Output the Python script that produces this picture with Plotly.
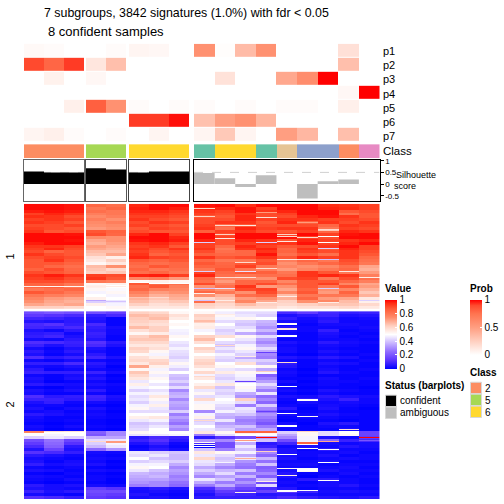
import numpy as np
import plotly.graph_objects as go

TITLE_1 = "7 subgroups, 3842 signatures (1.0%) with fdr &lt; 0.05"
TITLE_2 = "8 confident samples"
row_labels = ["p1", "p2", "p3", "p4", "p5", "p6", "p7"]
cluster_labels = ["1", "2"]

# sample columns per block: 3, 2, 3, 9
block_sizes = [3, 2, 3, 9]

prob_p1 = [.03, .02, 0, 0, .02, .05, .04, 0, .58, .01, .35, .58, 0, 0, 0, .16, 0]
prob_p2 = [.9, .8, .92, .13, .33, 0, 0, 0, 0, 0, 0, 0, 0, 0, 0, .33, 0]
prob_p3 = [0, .07, 0, .04, 0, 0, 0, 0, 0, .15, 0, 0, .45, .6, 1, 0, 0]
prob_p4 = [0, 0, 0, 0, 0, 0, 0, 0, 0, 0, 0, 0, 0, 0, 0, .04, 1]
prob_p5 = [0, 0, .08, .82, .58, .02, 0, .02, .02, 0, .02, 0, .02, .02, 0, .08, 0]
prob_p6 = [0, 0, 0, 0, 0, .92, .92, .98, .32, .5, .58, .38, 0, 0, 0, 0, 0]
prob_p7 = [.05, .08, .02, 0, .02, 0, .05, 0, .05, .28, .05, 0, .5, .37, 0, .33, 0]

class_ids = [2, 2, 2, 5, 5, 6, 6, 6, 1, 6, 6, 1, 7, 3, 3, 2, 4]
class_palette = ["#66C2A5", "#FC8D62", "#8DA0CB", "#E78AC3", "#A6D854", "#FFD92F", "#E5C494"]

silhouette = [.54, .5, .5, .68, .62, .5, .54, .54, .47, .25, -.13, .38, 0, -.62, .12, .2, 0]
confident = [1, 1, 1, 1, 1, 1, 1, 1, 0, 0, 0, 0, 0, 0, 0, 0, 0]
sil_ticks = [-0.5, 0, 0.5, 1]

value_ticks = [0, .2, .4, .6, .8, 1]
prob_ticks = [0, .5, 1]
legend_classes = [("2", "#FC8D62"), ("5", "#A6D854"), ("6", "#FFD92F")]
legend_status = [("confident", "#000000"), ("ambiguous", "#BEBEBE")]

# heatmap values, in hundredths; each row is one band of signatures
cluster_1 = [
 [99,99,98,84,82,96,99,99,98,99,95,99,99,99,95,94,92],
 [99,99,98,80,84,97,99,97,96,96,98,92,99,99,96,95,92],
 [97,98,97,82,80,96,96,94,94,92,98,94,96,99,99,88,90],
 [92,96,94,78,80,94,94,92,92,90,94,90,92,99,99,82,88],
 [95,94,90,75,78,92,92,90,88,88,96,90,90,96,98,94,88],
 [92,94,92,78,74,94,90,88,90,90,96,92,94,94,92,92,90],
 [94,92,88,75,78,90,94,92,90,94,94,88,96,86,94,90,94],
 [90,90,92,74,75,92,90,88,92,84,88,90,90,90,84,94,92],
 [92,90,88,72,74,88,92,90,94,82,96,92,94,94,80,92,90],
 [94,88,90,88,85,90,88,88,86,92,94,90,88,92,84,96,94],
 [99,99,98,90,84,96,99,92,99,90,99,99,92,99,92,98,99],
 [99,99,99,75,74,99,99,96,99,92,99,99,98,92,90,99,99],
 [99,99,98,70,74,98,99,97,96,90,96,94,88,96,92,94,96],
 [97,99,99,68,72,94,96,92,92,90,92,94,94,98,92,96,99],
 [94,94,92,72,70,92,94,88,92,84,96,92,88,90,94,99,92],
 [92,96,90,70,68,94,90,94,94,80,94,96,84,94,88,96,92],
 [90,85,88,66,66,92,88,90,90,82,84,94,85,92,90,94,90],
 [94,90,88,64,70,94,85,88,86,84,84,98,82,88,82,94,88],
 [90,92,90,58,54,96,92,90,94,88,90,94,88,96,92,94,84],
 [88,94,88,56,62,88,85,88,84,80,80,88,78,84,80,90,82],
 [88,88,85,52,56,84,82,84,88,84,88,90,74,80,84,88,80],
 [88,84,82,66,74,82,88,84,85,85,92,80,76,74,76,82,70],
 [85,90,84,64,60,85,80,82,80,88,80,78,72,76,80,84,68],
 [90,88,85,62,64,82,84,80,92,84,88,86,80,94,88,80,72],
 [94,97,94,92,90,96,97,92,96,82,80,82,82,94,96,94,78],
 [92,94,90,94,88,76,78,72,84,76,76,74,90,92,80,90,82],
 [90,90,88,80,78,52,54,52,82,72,84,84,76,88,88,84,78],
 [85,84,80,52,54,88,84,82,90,78,84,90,82,88,92,76,70],
 [84,86,80,54,50,82,88,78,74,82,94,72,74,88,80,88,72],
 [80,82,84,52,49,84,78,76,78,74,90,92,70,85,74,76,68],
 [88,84,80,48,52,78,72,74,84,80,74,90,76,88,72,85,64],
 [80,78,76,50,48,74,68,70,74,68,82,84,66,80,80,80,68],
 [76,72,70,54,50,68,64,68,60,64,72,74,68,84,72,70,56],
 [74,70,68,42,46,66,62,64,82,64,76,70,62,74,76,66,54],
 [70,68,70,54,48,62,58,60,62,60,66,62,60,62,64,64,60],
 [62,62,60,50,52,56,56,56,60,58,60,60,56,58,58,60,56],
]
cluster_2 = [
 [18,20,18,18,15,62,60,52,52,47,44,44,10,14, 9, 7, 8],
 [14,12,10, 7,10,66,64,58,62,52,46,42, 4, 6, 8, 4, 5],
 [ 9, 8, 6, 5, 1,63,66,55,60,48,52,50, 7, 3, 5, 2, 3],
 [ 5, 4, 6, 4, 1,62,60,50,66,44,42,38, 3, 2, 6, 2, 2],
 [10,12, 7,10, 1,60,58,52,54,50,40,36, 1, 1, 3, 3, 2],
 [ 9, 8,10, 7, 3,66,62,50,55,46,44,32, 5, 2, 2, 2, 3],
 [ 4, 2, 6, 6, 2,58,62,48,48,42,48,38, 3, 2, 7, 1, 2],
 [ 6, 7, 2, 8, 2,52,55,47,50,44,36,30, 2, 1, 4, 2, 1],
 [ 7, 9, 4, 7, 1,62,66,52,62,58,52,44, 3, 1, 3, 1, 2],
 [ 3, 2, 6, 5, 1,64,64,50,66,50,46,34, 1, 1, 2, 2, 1],
 [11,10, 8,12, 6,60,60,46,58,44,42,30, 4, 2, 6, 3, 2],
 [ 8, 4, 7,10, 4,56,56,44,50,40,48,36, 2, 1, 3, 2, 1],
 [ 3, 1, 4, 4, 1,62,58,48,62,46,52,44, 3, 1, 2, 1, 1],
 [ 6, 2, 6, 3, 1,60,52,45,58,42,46,36, 3, 1, 4, 2, 1],
 [ 4, 1, 3, 6, 1,52,48,44,50,48,42,30, 1, 0, 2, 1, 2],
 [11, 6, 8, 9, 4,58,54,42,56,44,36,28, 5, 3, 6, 4, 1],
 [ 2, 1, 3, 2, 1,60,60,46,60,42,44,42, 2, 1, 2, 1, 2],
 [ 7, 7,10, 6, 2,56,62,52,62,50,58,38, 6, 1, 4, 3, 1],
 [ 3, 2, 4, 4, 0,70,54,47,58,52,50,52, 5, 1, 2, 1, 1],
 [ 6, 1, 2, 2, 1,52,48,42,52,46,44,36, 2, 0, 3, 1, 2],
 [ 8, 7, 7, 8, 3,64,52,50,60,55,52,48, 3, 1, 5, 2, 1],
 [ 2, 1, 3, 3, 0,60,47,40,48,44,48,22, 2, 0, 1, 1, 1],
 [ 4, 1, 4, 5, 1,56,52,38,56,42,46,28, 1, 1, 3, 1, 2],
 [ 3, 0, 1, 2, 0,46,50,42,50,46,44,34, 3, 0, 2, 2, 1],
 [ 6, 4, 3, 4, 2,54,46,36,54,56,50,44, 1, 1, 2, 1, 1],
 [ 1, 0, 2, 2, 1,48,50,44,60,40,52,36, 2, 0, 1, 1, 0],
 [ 4, 2, 4, 6, 1,42,45,30,46,44,48,28, 3, 1, 4, 2, 1],
 [ 3, 1, 1, 2, 0,48,48,36,52,42,36,46, 1, 0, 2, 1, 1],
 [11, 6, 7, 9, 4,44,56,38,44,46,32,25, 4, 3, 6, 4, 3],
 [ 8, 8, 6, 8, 3,46,52,30,60,50,62,30, 2, 6, 4, 8, 2],
 [ 4, 7, 2, 3, 1,42,47,36,48,48,44,24, 1, 3, 2, 3, 2],
 [ 2, 2, 1, 1, 0,48,54,34,52,44,28,42, 2, 1, 3, 2, 1],
 [ 4, 1, 3, 4, 1,52,46,32,52,42,46,30, 6, 0, 4, 1, 0],
 [ 2, 3, 1, 2, 0,44,44,42,30,48,44,26, 2, 1, 2, 1, 1],
 [ 6, 4, 2, 3, 1,50,50,28,48,38,40,32, 3, 2, 4, 2, 1],
 [ 3, 1, 1, 2, 1,54,56,34,54,36,32,28, 1, 2, 2, 1, 1],
 [ 2, 1, 2, 1, 0,46,48,30,42,46,28,24, 0, 1, 1, 0, 1],
 [ 1, 0, 1, 1, 0,40,42,26,44,34,30,20, 3, 0, 4, 6, 1],
 [ 3, 1, 3, 2, 1,42,46,34,50,38,40,28, 2, 1, 2, 2, 1],
 [ 2, 0, 1, 1, 0,44,50,30,46,42,34,36, 2, 1, 1, 3, 1],
 [50,50,50,22,30,52,50,50,56,52,54,52,42,52,44,50,16],
 [50,48,50,20,30,45,46,48,28,44,50,50,35,52,44,52,16],
 [42,46,42,36,35, 6,10, 8, 6,12,18,34,30,48, 4, 2,14],
 [18,26,16,44,46, 8,12, 6,32,30,48,40,18,48,24, 8,10],
 [14,24,12,42,48, 4, 8, 2,52,18,36, 6, 9,52, 3, 2, 3],
 [10,22, 6,38,46, 1, 4, 1, 1,18,46, 8, 2, 4, 2, 5, 3],
 [ 5,16, 4,24,32, 2, 6, 3,40,28,40,20, 4, 1, 6, 2, 2],
 [12,10, 7, 3, 2,46,42,40,56,52,48,30, 4, 2, 2, 3, 1],
 [ 6, 4, 2, 2, 1,44,46,38,46,44,36,24, 3, 2, 4, 1, 2],
 [ 3, 2, 1, 3, 2,50,40,38,60,40,46,38, 4, 1, 2, 3, 2],
 [ 4, 1, 3, 2, 0,42,44,42,46,42,32,26, 2, 2, 3, 1, 1],
 [ 7, 3, 4, 4, 1,48,48,36,44,36,28,40, 3, 3, 1, 2, 2],
 [ 2, 1, 2, 1, 0,52,50,30,36,30,26,22, 2, 2, 2, 3, 1],
 [ 4, 3, 1, 3, 2,46,40,34,42,38,40,24, 3, 1, 4, 2, 2],
 [ 1, 0, 2, 1, 0,38,36,32,36,44,28,30, 5, 1, 1, 3, 1],
 [ 3, 2, 1, 2, 1,36,38,28,30,34,38,22, 4, 0, 2, 1, 2],
 [ 2, 1, 3, 2, 0,34,34,30,46,40,26,38, 2, 6, 6, 2, 1],
 [ 1, 0, 1, 1, 0,32,30,26,36,28,32,18, 3, 1, 3, 2, 1],
 [ 6, 3, 4, 3, 2,28,30,24,28,36,24,44, 2, 2, 3, 5, 2],
 [ 4, 3, 2,15,12, 4, 6, 4,10,22,16,10, 5, 1, 2, 2, 1],
 [ 8, 4, 6,18,18, 3, 4, 2, 7,14,12,16,12, 8, 3, 4, 3],
 [ 3, 2, 1,16,14, 5, 2, 1, 4,10, 8, 5, 6, 3, 2, 2, 2],
 [12,10, 7,14,12, 3, 4, 2, 6, 7, 7, 7,10, 7, 5, 4, 6],
]

# one-pixel lines inside the bands: (pixel line from the top of the cluster, column, value)
lines_1 = [
 (4, 8, .62), (8, 11, .72), (13, 8, .62), (14, 11, .58), (19, 13, .72), (22, 9, .6), (22, 10, .56),
 (26, 14, .6), (27, 14, .64), (31, 9, .62), (31, 12, .62), (33, 12, .6), (34, 13, .6), (33, 14, .5),
 (35, 9, .56), (39, 8, .42), (39, 11, .42), (39, 14, .5), (38, 12, .56), (45, 14, .42), (57, 14, .4),
 (57, 12, .56), (57, 13, .58), (60, 10, .6), (66, 11, .6), (69, 8, .42), (69, 10, .45), (69, 15, .56),
 (75, 9, .6), (75, 10, .58), (75, 16, .55), (85, 0, .55), (85, 1, .52), (85, 2, .52), (85, 3, .55), (85, 4, .55),
 (87, 8, .4), (87, 9, .45), (87, 14, .42), (80, 5, .5), (81, 6, .5), (81, 7, .5), (96, 5, .65), (96, 6, .6),
 (92, 8, .55), (95, 12, .55), (99, 8, .4), (99, 16, .42), (99, 9, .55), (101, 11, .55), (101, 14, .55), (99, 3, .35), (100, 4, .4),
]
lines_2 = [
 (12, 12, .52), (13, 12, .5), (17, 12, .58), (18, 12, .56), (24, 12, .5), (25, 12, .5), (51, 12, .6), (75, 12, .5),
 (102, 12, .5), (114, 12, .5), (115, 12, .5), (144, 12, .5), (158, 12, .52), (165, 12, .55),
 (88, 13, .5), (89, 13, .5), (105, 13, .52), (158, 13, .5), (159, 13, .5), (160, 13, .5), (161, 13, .52),
 (180, 13, .5), (181, 12, .5), (180, 12, .5), (139, 14, .5), (152, 14, .5), (170, 14, .5), (118, 15, .58),
 (130, 16, .2), (127, 11, 1), (127, 16, 1), (120, 0, .78), (121, 0, .76), (120, 1, .6), (120, 2, .58),
 (120, 10, .85), (121, 10, .85), (120, 11, .85), (121, 11, .85), (120, 13, .62), (131, 3, .6), (131, 4, .72), (132, 4, .72),
 (132, 13, .85), (133, 13, .85), (131, 14, .7), (130, 10, .72), (138, 13, .5), (136, 8, .5), (133, 8, .1), (141, 11, .62),
 (34, 9, .6), (65, 8, .6), (60, 11, .62), (45, 10, .55), (109, 8, .6), (11, 8, .62), (3, 9, .55), (148, 10, .68), (171, 11, .55),
 (182, 10, .55), (176, 8, .25), (152, 9, .48), (100, 11, .15), (41, 11, .15), (70, 10, .15),
]

value_scale = [[0, "#0000FF"], [.125, "#5B33FF"], [.25, "#8F6BFF"], [.375, "#C8B4FF"], [.5, "#FFFFFF"],
               [.625, "#FFCFC0"], [.75, "#FF8A68"], [.875, "#FF5A36"], [.95, "#FF2E14"], [1, "#FF0000"]]
prob_scale = [[0, "#FFFFFF"], [.25, "#FFCFC0"], [.5, "#FF9E81"], [.75, "#FF7450"], [.9, "#FF4A2E"], [1, "#FF0000"]]
FONT = "Liberation Sans"
W = H = 504

# pixel geometry of the layout
block_x = [(24, 84), (86, 126), (129, 189), (194, 379.5)]
prob_y = (41, 140)
class_y = (142, 156)
sil_y = (157.5, 199.5)
heat_y = [(202, 308), (310, 499)]

fig = go.Figure()
axis_count = 0


def new_axes(x, y, **yopts):
    global axis_count
    axis_count += 1
    n = axis_count
    sx = "" if n == 1 else str(n)
    base = dict(showticklabels=False, ticks="", showgrid=False, zeroline=False)
    fig.layout["xaxis" + sx] = dict(base, domain=[x[0] / W, x[1] / W], anchor="y" + sx)
    yax = dict(base, domain=[1 - y[1] / H, 1 - y[0] / H], anchor="x" + sx)
    yax.update(yopts)
    fig.layout["yaxis" + sx] = yax
    return "x" + sx, "y" + sx


def fine_rows(rows, lines):
    z = np.repeat(np.array(rows) / 100, 3, axis=0)
    for line, col, val in lines:
        z[line, col] = val
    return z


prob = np.array([prob_p1, prob_p2, prob_p3, prob_p4, prob_p5, prob_p6, prob_p7])
cl = np.array(class_ids)
sil = np.array(silhouette)
conf = np.array(confident)
hm = [fine_rows(cluster_1, lines_1), fine_rows(cluster_2, lines_2)]
n_colors = len(class_palette)
class_scale = []
for i, c in enumerate(class_palette):
    class_scale += [[i / n_colors, c], [(i + 1) / n_colors, c]]

start = 0
for b, size in enumerate(block_sizes):
    idx = list(range(start, start + size))
    start += size
    x = block_x[b]
    xa, ya = new_axes(x, prob_y, autorange="reversed")
    fig.add_trace(go.Heatmap(z=prob[:, idx], xaxis=xa, yaxis=ya, coloraxis="coloraxis2", ygap=1,
                             hoverinfo="skip"))
    xa, ya = new_axes(x, class_y)
    fig.add_trace(go.Heatmap(z=[cl[idx].tolist()], xaxis=xa, yaxis=ya, colorscale=class_scale,
                             zmin=.5, zmax=n_colors + .5, showscale=False, hoverinfo="skip"))
    is_last = b == len(block_sizes) - 1
    opts = dict(range=[-.74, 1.05], showline=True, mirror=True, linecolor=["#666", "#555", "#444", "#000"][b],
                linewidth=1.2)
    if is_last:
        opts.update(side="right", showticklabels=True, tickvals=sil_ticks, ticktext=["-0.5", "0", "0.5", "1"],
                    ticks="outside", ticklen=3, tickcolor="#000",
                    tickfont=dict(family=FONT, size=8, color="#000"))
    xa, ya = new_axes(x, sil_y, **opts)
    fig.layout["xaxis" + xa[1:]].update(range=[-.5, size - .5], showline=True, mirror=True,
                                        linecolor=opts["linecolor"], linewidth=1.2)
    fig.add_trace(go.Bar(x=list(range(size)), y=sil[idx], width=1, xaxis=xa, yaxis=ya,
                         marker=dict(color=["#000000" if conf[i] else "#BEBEBE" for i in idx], line_width=0),
                         showlegend=False, hoverinfo="skip"))
    fig.add_shape(type="line", xref=xa, yref=ya, x0=-.5, x1=size - .5, y0=.5, y1=.5, layer="below",
                  line=dict(color="#D0D0D0", width=1, dash="dash"))
    for k, y in enumerate(heat_y):
        xa, ya = new_axes(x, y, autorange="reversed")
        fig.add_trace(go.Heatmap(z=hm[k][:, idx], xaxis=xa, yaxis=ya, coloraxis="coloraxis", hoverinfo="skip"))


def px_text(x, y, text, size, anchor="left", bold=False, angle=0):
    fig.add_annotation(xref="paper", yref="paper", x=(x - (2 if anchor == "left" else 0)) / W, y=1 - y / H, text=text,
                       showarrow=False, xanchor=anchor, yanchor="middle", textangle=angle,
                       font=dict(family=FONT, size=size, color="#000", weight=700 if bold else 400))


def swatch(x, y, w, h, color):
    fig.add_shape(type="rect", xref="paper", yref="paper", x0=x / W, x1=(x + w) / W, y0=1 - y / H,
                  y1=1 - (y + h) / H, fillcolor=color, line=dict(color="#D8D8D8", width=1))


px_text(44, 10, TITLE_1, 12.4)
px_text(48, 29, TITLE_2, 13)
for i, lab in enumerate(row_labels):
    px_text(383, 48.5 + i * 14.2, lab, 11)
px_text(383, 149, "Class", 11.5)
px_text(396, 173, "Silhouette", 9)
px_text(394, 184, "score", 9)
px_text(10, 255, cluster_labels[0], 11, anchor="center", angle=-90)
px_text(10, 404, cluster_labels[1], 11, anchor="center", angle=-90)
px_text(385, 287, "Value", 10, bold=True)
px_text(470, 287, "Prob", 10, bold=True)
px_text(470, 372, "Class", 10, bold=True)
px_text(385, 385, "Status (barplots)", 10, bold=True)
for i, (lab, col) in enumerate(legend_classes):
    swatch(470.5, 381.5 + i * 12, 11, 11.5, col)
    px_text(485, 387.5 + i * 12, lab, 10)
for i, (lab, col) in enumerate(legend_status):
    swatch(385.5, 394.5 + i * 12, 11, 11.5, col)
    px_text(400, 400 + i * 12, lab, 10)

fig.update_layout(
    width=W, height=H, autosize=False, margin=dict(l=0, r=0, t=0, b=0),
    paper_bgcolor="white", plot_bgcolor="white", barmode="overlay", showlegend=False,
    font=dict(family=FONT, color="#000"),
    coloraxis=dict(colorscale=value_scale, cmin=0, cmax=1, colorbar=dict(
        x=385 / W, xanchor="left", y=1 - 298.5 / H, yanchor="top", len=69.5 / H, lenmode="fraction",
        thickness=12, thicknessmode="pixels", xpad=0, ypad=0, outlinewidth=0,
        tickvals=value_ticks, ticktext=[f"{v:g}" for v in value_ticks], ticks="inside", ticklen=2,
        tickcolor="white", tickfont=dict(family=FONT, size=10))),
    coloraxis2=dict(colorscale=prob_scale, cmin=0, cmax=1, colorbar=dict(
        x=470 / W, xanchor="left", y=1 - 298.5 / H, yanchor="top", len=55.5 / H, lenmode="fraction",
        thickness=12, thicknessmode="pixels", xpad=0, ypad=0, outlinewidth=0,
        tickvals=prob_ticks, ticktext=[f"{v:g}" for v in prob_ticks], ticks="inside", ticklen=2,
        tickcolor="white", tickfont=dict(family=FONT, size=10))),
)
fig.write_html("out.html", config={"displayModeBar": False},
               post_script="document.body.style.margin='0';document.documentElement.style.overflow='hidden';")
